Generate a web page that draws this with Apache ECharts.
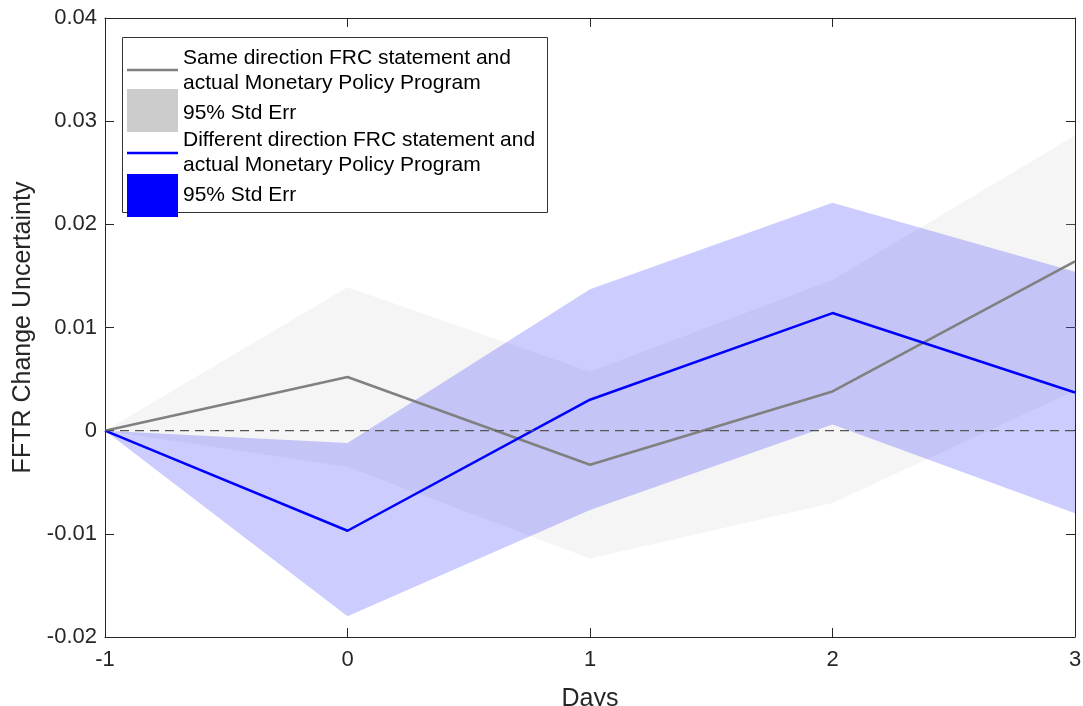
<!DOCTYPE html>
<html>
<head>
<meta charset="utf-8">
<script src="https://cdn.jsdelivr.net/npm/echarts@6/dist/echarts.min.js"></script>
<style>
  html, body { margin: 0; padding: 0; background: #fff; }
  #fftrChart { width: 1083px; height: 706px; }
</style>
</head>
<body>
<div id="fftrChart"></div>
<script>
  // days around the announcement
  const days = [-1, 0, 1, 2, 3];
  const yTickLabels = ['-0.02', '-0.01', '0', '0.01', '0.02', '0.03', '0.04'];

  // same direction FRC statement and actual policy
  const sameMean = [0, 0.0052, -0.0033, 0.0038, 0.0164];
  const sameUpper = [0, 0.0139, 0.0057, 0.0146, 0.0286];
  const sameLower = [0, -0.0035, -0.0124, -0.0070, 0.0039];

  // different direction
  const diffMean = [0, -0.0097, 0.0030, 0.0114, 0.0037];
  const diffUpper = [0, -0.0012, 0.0137, 0.0221, 0.0154];
  const diffLower = [0, -0.0180, -0.0077, 0.0006, -0.0080];

  const legendLines = [
    'Same direction FRC statement and',
    'actual Monetary Policy Program',
    '95% Std Err',
    'Different direction FRC statement and',
    'actual Monetary Policy Program',
    '95% Std Err'
  ];

  const FONT = '"Liberation Sans", Arial, Helvetica, sans-serif';
  const AXIS_COLOR = '#262626';

  // shaded band between lower and upper, drawn once as polygon
  function band(name, upper, lower, fill) {
    return {
      name: name,
      type: 'custom',
      silent: true,
      clip: true,
      data: days.map((d, i) => [d, lower[i], upper[i]]),
      encode: { x: 0, y: [1, 2] },
      renderItem: function (params, api) {
        if (params.dataIndex !== 0) return;
        const pts = [];
        days.forEach((d, i) => pts.push(api.coord([d, upper[i]])));
        for (let i = days.length - 1; i >= 0; i--) {
          pts.push(api.coord([days[i], lower[i]]));
        }
        return {
          type: 'polygon',
          shape: { points: pts },
          style: { fill: fill }
        };
      }
    };
  }

  function line(name, vals, color, width) {
    return {
      name: name,
      type: 'line',
      symbol: 'none',
      silent: true,
      data: days.map((d, i) => [d, vals[i]]),
      lineStyle: { color: color, width: width }
    };
  }

  const myChart = echarts.init(document.getElementById('fftrChart'), null, { renderer: 'canvas' });

  const textStyle = { fontFamily: FONT, color: AXIS_COLOR };

  const legendGraphic = [
    {
      type: 'rect', left: 122, top: 37, z: 100,
      shape: { width: 425, height: 175 },
      style: { fill: '#fff', stroke: '#333', lineWidth: 1 }
    },
    {
      type: 'line', z: 101,
      shape: { x1: 127, y1: 70, x2: 178, y2: 70 },
      style: { stroke: '#808080', lineWidth: 2.5 }
    },
    {
      type: 'rect', z: 101,
      shape: { x: 127, y: 89, width: 51, height: 43 },
      style: { fill: '#cccccc' }
    },
    {
      type: 'line', z: 101,
      shape: { x1: 127, y1: 153, x2: 178, y2: 153 },
      style: { stroke: '#0000ff', lineWidth: 2.5 }
    },
    {
      type: 'rect', z: 101,
      shape: { x: 127, y: 174, width: 51, height: 43 },
      style: { fill: '#0000ff' }
    }
  ];
  const legendY = [58, 83, 113, 140, 165, 195];
  legendLines.forEach((t, i) => {
    legendGraphic.push({
      type: 'text', z: 102, x: 183, y: legendY[i],
      style: {
        text: t, fill: '#000', font: '21px ' + FONT,
        textVerticalAlign: 'middle'
      }
    });
  });

  const option = {
    animation: false,
    backgroundColor: '#fff',
    grid: {
      left: 105, right: 8, top: 18, bottom: 69,
      containLabel: false, outerBoundsMode: 'none'
    },
    xAxis: [{
        type: 'value', min: -1, max: 3, interval: 1,
        position: 'bottom',
        name: 'Days', nameLocation: 'middle', nameGap: 50,
        nameTextStyle: Object.assign({ fontSize: 25 }, textStyle),
        axisLine: { show: true, onZero: false, lineStyle: { color: AXIS_COLOR, width: 1 } },
        axisTick: { show: true, inside: true, length: 9, lineStyle: { color: AXIS_COLOR } },
        axisLabel: Object.assign({ fontSize: 22, margin: 12 }, textStyle),
        splitLine: { show: false }
      },
      {
        type: 'value', min: -1, max: 3, interval: 1,
        position: 'top',
        axisLine: { show: true, onZero: false, lineStyle: { color: AXIS_COLOR, width: 1 } },
        axisTick: { show: true, inside: true, length: 9, lineStyle: { color: AXIS_COLOR } },
        axisLabel: { show: false },
        splitLine: { show: false }
      }
    ],
    yAxis: [{
        type: 'value', min: -0.02, max: 0.04, interval: 0.01,
        position: 'left',
        name: 'FFTR Change Uncertainty', nameLocation: 'middle', nameGap: 67,
        nameRotate: 90,
        nameTextStyle: Object.assign({ fontSize: 25 }, textStyle),
        axisLine: { show: true, onZero: false, lineStyle: { color: AXIS_COLOR, width: 1 } },
        axisTick: { show: true, inside: true, length: 9, lineStyle: { color: AXIS_COLOR } },
        axisLabel: Object.assign({
          fontSize: 22, margin: 8,
          formatter: function (v) {
            return yTickLabels[Math.round((v + 0.02) / 0.01)];
          }
        }, textStyle),
        splitLine: { show: false }
      },
      {
        type: 'value', min: -0.02, max: 0.04, interval: 0.01,
        position: 'right',
        axisLine: { show: true, onZero: false, lineStyle: { color: AXIS_COLOR, width: 1 } },
        axisTick: { show: true, inside: true, length: 9, lineStyle: { color: AXIS_COLOR } },
        axisLabel: { show: false },
        splitLine: { show: false }
      }
    ],
    series: [
      band('Same direction 95% Std Err', sameUpper, sameLower, 'rgba(204,204,204,0.2)'),
      line('Same direction', sameMean, '#808080', 2.5),
      band('Different direction 95% Std Err', diffUpper, diffLower, 'rgba(0,0,255,0.2)'),
      line('Different direction', diffMean, '#0000ff', 2.5),
      {
        name: 'zero',
        type: 'line',
        symbol: 'none',
        silent: true,
        data: [[days[0], 0], [days[days.length - 1], 0]],
        lineStyle: { color: '#555', width: 1.2, type: [9, 6] }
      }
    ],
    graphic: legendGraphic
  };

  myChart.setOption(option);
</script>
</body>
</html>
